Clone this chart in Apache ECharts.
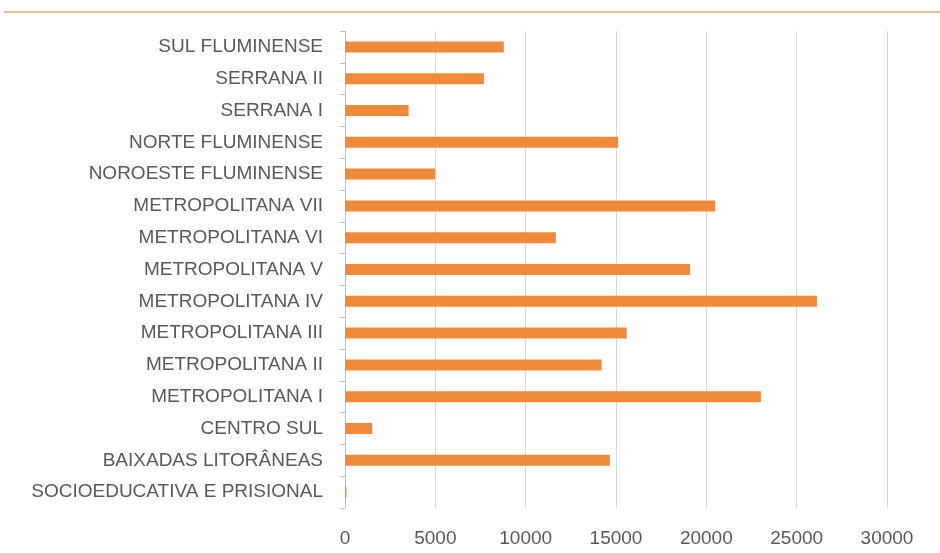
<!DOCTYPE html>
<html>
<head>
<meta charset="utf-8">
<script src="https://cdn.jsdelivr.net/npm/echarts@6/dist/echarts.min.js"></script>
<style>
  html, body { margin: 0; padding: 0; background: #ffffff; }
  #chart { width: 940px; height: 553px; }
</style>
</head>
<body>
<div id="chart"></div>
<script>
// categories, bottom to top as in the picture
const regioes = [
  'SOCIOEDUCATIVA E PRISIONAL',
  'BAIXADAS LITORÂNEAS',
  'CENTRO SUL',
  'METROPOLITANA I',
  'METROPOLITANA II',
  'METROPOLITANA III',
  'METROPOLITANA IV',
  'METROPOLITANA V',
  'METROPOLITANA VI',
  'METROPOLITANA VII',
  'NOROESTE FLUMINENSE',
  'NORTE FLUMINENSE',
  'SERRANA I',
  'SERRANA II',
  'SUL FLUMINENSE'
];

// bar values
const valores = [80, 14660, 1510, 23020, 14200, 15590, 26120, 19100, 11670, 20480, 4980, 15120, 3520, 7690, 8790];

// x axis range
const eixoMin = 0;
const eixoMax = 30000;
const eixoPasso = 5000;

const chart = echarts.init(document.getElementById('chart'));

chart.setOption({
  backgroundColor: '#ffffff',
  animation: false,
  textStyle: { fontFamily: 'Liberation Sans, Arial, sans-serif' },
  // thin orange rule along the top
  graphic: [
    {
      type: 'line',
      shape: { x1: 4, y1: 12, x2: 940, y2: 12 },
      style: { stroke: '#f2a468', lineWidth: 1.5 }
    }
  ],
  grid: { left: 345, right: 53, top: 31, bottom: 45 },
  xAxis: {
    type: 'value',
    min: eixoMin,
    max: eixoMax,
    interval: eixoPasso,
    axisLine: { show: false },
    axisTick: { show: false },
    splitLine: { lineStyle: { color: '#d9d9d9', width: 1 } },
    axisLabel: {
      color: '#595959',
      fontSize: 19,
      margin: 21,
      formatter: (v) => String(v)
    }
  },
  yAxis: {
    type: 'category',
    data: regioes,
    axisLine: { show: true, lineStyle: { color: '#bfbfbf' } },
    axisTick: { show: true, length: 5, lineStyle: { color: '#bfbfbf' } },
    axisLabel: { color: '#595959', fontSize: 19, margin: 22 }
  },
  series: [
    {
      type: 'bar',
      data: valores,
      barWidth: 11,
      itemStyle: { color: '#f08a3a' }
    }
  ]
});
</script>
</body>
</html>
